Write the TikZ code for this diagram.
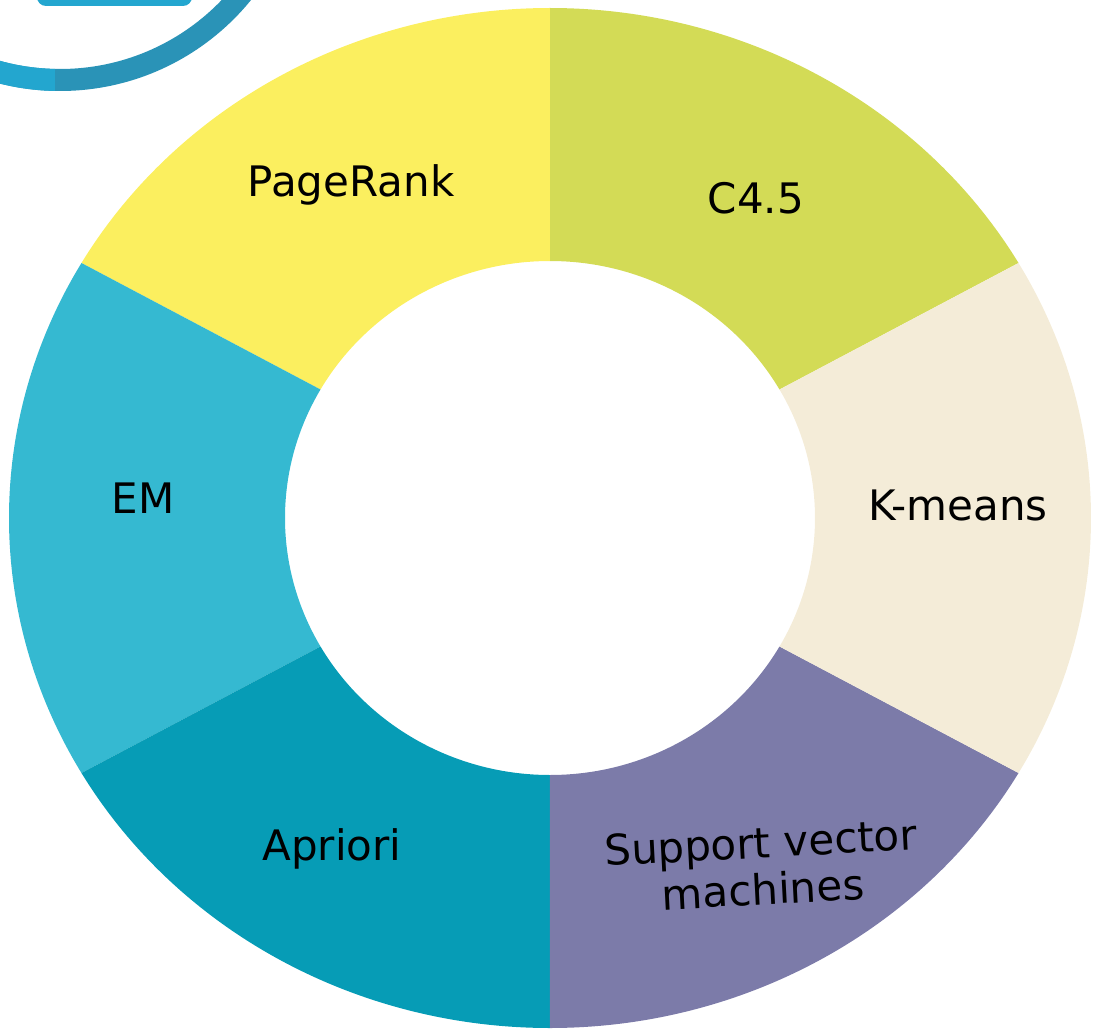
\documentclass[tikz,border=0pt]{standalone}
\usepackage{fontspec}
\setmainfont{DejaVu Sans}
\definecolor{rankyellow}{HTML}{FBEF5F}
\definecolor{cfourgreen}{HTML}{D3DB56}
\definecolor{kmeanscream}{HTML}{F4ECD8}
\definecolor{svmpurple}{HTML}{7C7BA9}
\definecolor{aprioriteal}{HTML}{069CB6}
\definecolor{emblue}{HTML}{35B9D1}
\definecolor{ringdark}{HTML}{2A93B7}
\definecolor{ringlight}{HTML}{23A6CF}
\begin{document}
\begin{tikzpicture}[%
% common options for the ring segments:
seg/.style = {draw=none},
% common options for the labels:
lbl/.style = {inner sep=0, anchor=base, font=\fontsize{42}{47}\selectfont}]
\useasboundingbox (-550pt,-511pt) rectangle (548pt,518pt);
\clip (-550pt,-511pt) rectangle (548pt,518pt);
% corner badge, cut off by the page
\fill[ringdark, even odd rule] (-490pt,673pt) circle (246pt) (-490pt,673pt) circle (224pt);
\begin{scope}
\clip (-560pt,300pt) rectangle (-495pt,530pt);
\fill[ringlight, even odd rule] (-490pt,673pt) circle (246pt) (-490pt,673pt) circle (224pt);
\end{scope}
\fill[ringlight, rounded corners=9pt] (-513pt,512pt) rectangle (-358pt,560pt);
% segments of the ring
\fill[seg, cfourgreen] (30:541pt and 510pt) arc[start angle=30, end angle=90, x radius=541pt, y radius=510pt]
  -- (90:265pt and 257pt) arc[start angle=90, end angle=30, x radius=265pt, y radius=257pt] -- cycle;
\fill[seg, rankyellow] (90:541pt and 510pt) arc[start angle=90, end angle=150, x radius=541pt, y radius=510pt]
  -- (150:265pt and 257pt) arc[start angle=150, end angle=90, x radius=265pt, y radius=257pt] -- cycle;
\fill[seg, emblue] (150:541pt and 510pt) arc[start angle=150, end angle=210, x radius=541pt, y radius=510pt]
  -- (210:265pt and 257pt) arc[start angle=210, end angle=150, x radius=265pt, y radius=257pt] -- cycle;
\fill[seg, aprioriteal] (210:541pt and 510pt) arc[start angle=210, end angle=270, x radius=541pt, y radius=510pt]
  -- (270:265pt and 257pt) arc[start angle=270, end angle=210, x radius=265pt, y radius=257pt] -- cycle;
\fill[seg, svmpurple] (270:541pt and 510pt) arc[start angle=270, end angle=330, x radius=541pt, y radius=510pt]
  -- (330:265pt and 257pt) arc[start angle=330, end angle=270, x radius=265pt, y radius=257pt] -- cycle;
\fill[seg, kmeanscream] (-30:541pt and 510pt) arc[start angle=-30, end angle=30, x radius=541pt, y radius=510pt]
  -- (30:265pt and 257pt) arc[start angle=30, end angle=-30, x radius=265pt, y radius=257pt] -- cycle;
% labels
\node[lbl] (rank) at (-199pt,321pt) {PageRank};
\node[lbl] (cfour) at (206pt,305pt) {C4.5};
\node[lbl] (kmeans) at (408pt,-2pt) {K-means};
\node[lbl] (em) at (-407pt,5pt) {EM};
\node[lbl] (apriori) at (-218pt,-342pt) {Apriori};
\node[lbl, anchor=center, align=center, rotate=3] (svm) at (212pt,-348pt) {Support vector\\machines};
\end{tikzpicture}
\end{document}
